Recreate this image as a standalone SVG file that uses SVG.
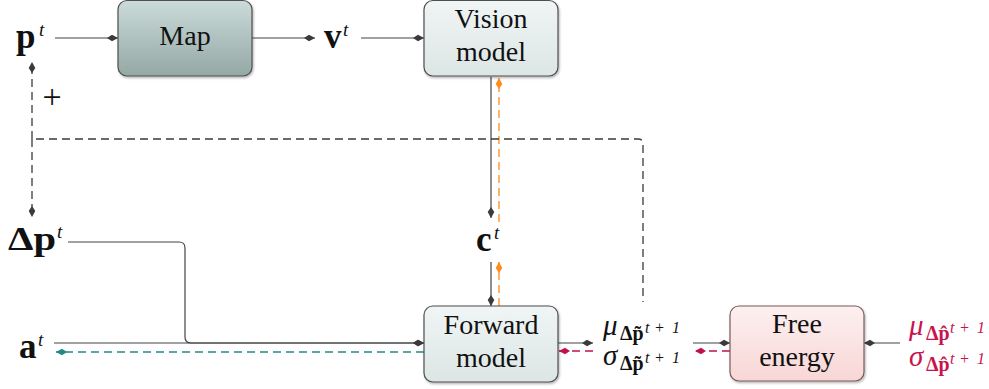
<svg xmlns="http://www.w3.org/2000/svg" width="989" height="389" viewBox="0 0 989 389">
<defs>
<style>
text{font-family:'Liberation Serif','DejaVu Serif',serif;fill:#111}
.b{font-weight:bold}
.i{font-style:italic}
.box{stroke:#4f4f4f;stroke-width:1.2}
.ln{fill:none;stroke:#444;stroke-width:1.2}
.dk{fill:none;stroke:#3a3a3a;stroke-width:1.3;stroke-dasharray:8,5}
.or{fill:none;stroke:#ff8c1a;stroke-width:1.3;stroke-dasharray:8,5}
.tl{fill:none;stroke:#208a8a;stroke-width:1.3;stroke-dasharray:8,5}
.cr{fill:none;stroke:#c0124a;stroke-width:1.3;stroke-dasharray:8,5}
text.red{fill:#c8144e}
</style>
<linearGradient id="gMap" x1="0" y1="0" x2="0" y2="1"><stop offset="0" stop-color="#cbdbda"/><stop offset="1" stop-color="#94a8a4"/></linearGradient>
<linearGradient id="gLt" x1="0" y1="0" x2="0" y2="1"><stop offset="0" stop-color="#f0f5f5"/><stop offset="1" stop-color="#dce6e5"/></linearGradient>
<linearGradient id="gPk" x1="0" y1="0" x2="0" y2="1"><stop offset="0" stop-color="#fdf0f0"/><stop offset="1" stop-color="#f8d6d6"/></linearGradient>
<filter id="sh" x="-10%" y="-10%" width="130%" height="130%"><feDropShadow dx="1" dy="1.5" stdDeviation="1.2" flood-color="#000" flood-opacity="0.3"/></filter>
<marker id="aD" markerUnits="userSpaceOnUse" markerWidth="14" markerHeight="10" refX="0" refY="0" viewBox="-11 -5 12 10" orient="auto"><path d="M0,0 L-6,-3.3 L-11,0 L-6,3.3 Z" fill="#3a3a3a"/></marker>
<marker id="aO" markerUnits="userSpaceOnUse" markerWidth="14" markerHeight="10" refX="0" refY="0" viewBox="-11 -5 12 10" orient="auto"><path d="M0,0 L-6,-3.3 L-11,0 L-6,3.3 Z" fill="#ff8c1a"/></marker>
<marker id="aT" markerUnits="userSpaceOnUse" markerWidth="14" markerHeight="10" refX="0" refY="0" viewBox="-11 -5 12 10" orient="auto"><path d="M0,0 L-6,-3.3 L-11,0 L-6,3.3 Z" fill="#208a8a"/></marker>
<marker id="aC" markerUnits="userSpaceOnUse" markerWidth="14" markerHeight="10" refX="0" refY="0" viewBox="-11 -5 12 10" orient="auto"><path d="M0,0 L-6,-3.3 L-11,0 L-6,3.3 Z" fill="#c0124a"/></marker>
</defs>

<g id="connectors">
<line class="ln" x1="55" y1="38" x2="118" y2="38" marker-end="url(#aD)"/>
<line class="ln" x1="252" y1="38" x2="315" y2="38" marker-end="url(#aD)"/>
<line class="ln" x1="361" y1="38" x2="424" y2="38" marker-end="url(#aD)"/>
<line class="ln" x1="491" y1="77" x2="491" y2="218" marker-end="url(#aD)"/>
<line class="or" x1="499" y1="222" x2="499" y2="78" marker-end="url(#aO)"/>
<line class="ln" x1="491" y1="262" x2="491" y2="306" marker-end="url(#aD)"/>
<line class="or" x1="499" y1="306" x2="499" y2="262" marker-end="url(#aO)"/>
<line class="dk" x1="32" y1="139" x2="32" y2="62" marker-end="url(#aD)"/>
<line class="dk" x1="32" y1="139" x2="32" y2="217" marker-end="url(#aD)"/>
<path class="dk" d="M36,139 H638 Q643,139 643,144 V302"/>
<path class="ln" d="M68,242 H179 Q185,242 185,248 V337 Q185,343 191,343 H424" marker-end="url(#aD)"/>
<line class="ln" x1="54" y1="343" x2="424" y2="343" marker-end="url(#aD)"/>
<line class="tl" x1="424" y1="352" x2="56" y2="352" marker-end="url(#aT)"/>
<line class="ln" x1="558" y1="343" x2="593" y2="343" marker-end="url(#aD)"/>
<line class="cr" x1="593" y1="351" x2="559" y2="351" marker-end="url(#aC)"/>
<line class="ln" x1="693" y1="343" x2="730" y2="343" marker-end="url(#aD)"/>
<line class="cr" x1="730" y1="351" x2="695" y2="351" marker-end="url(#aC)"/>
<line class="ln" x1="900" y1="343" x2="864" y2="343" marker-end="url(#aD)"/>
</g>

<g id="map">
<rect class="box" x="118" y="0.5" width="134" height="75.5" rx="9" fill="url(#gMap)" filter="url(#sh)"/>
<text x="185" y="45" font-size="28" text-anchor="middle">Map</text>
</g>
<g id="vision">
<rect class="box" x="424" y="0.5" width="134" height="75.5" rx="9" fill="url(#gLt)" filter="url(#sh)"/>
<text x="491" y="28" font-size="28" text-anchor="middle">Vision</text>
<text x="491" y="61" font-size="28" text-anchor="middle">model</text>
</g>
<g id="forward">
<rect class="box" x="424" y="306" width="134" height="76" rx="9" fill="url(#gLt)" filter="url(#sh)"/>
<text x="491" y="334" font-size="28" text-anchor="middle">Forward</text>
<text x="491" y="367" font-size="28" text-anchor="middle">model</text>
</g>
<g id="free">
<rect x="730" y="306" width="134" height="75" rx="9" fill="url(#gPk)" stroke="#7a5a5a" stroke-width="1.2" filter="url(#sh)"/>
<text x="797" y="333" font-size="28" text-anchor="middle">Free</text>
<text x="797" y="366" font-size="28" text-anchor="middle">energy</text>
</g>

<g id="pt">
<text class="b" x="16" y="48" font-size="35">p</text>
<text class="i" x="39" y="36" font-size="19">t</text>
</g>
<g id="vt">
<text class="b" x="324" y="48" font-size="35">v</text>
<text class="i" x="343" y="36" font-size="19">t</text>
</g>
<g id="plus">
<text x="52" y="108" font-size="34" text-anchor="middle">+</text>
</g>
<g id="dpt">
<text class="b" x="8" y="250" font-size="34" textLength="48" lengthAdjust="spacingAndGlyphs">Δp</text>
<text class="i" x="57" y="238" font-size="19">t</text>
</g>
<g id="ct">
<text class="b" x="476" y="251" font-size="35">c</text>
<text class="i" x="494" y="239" font-size="19">t</text>
</g>
<g id="at">
<text class="b" x="19" y="358" font-size="35">a</text>
<text class="i" x="38" y="346" font-size="19">t</text>
</g>
<g id="mu-tilde">
<text class="i" x="603" y="335" font-size="29">μ</text>
<text class="b" x="620" y="340" font-size="20">Δp̃</text>
<text class="i" font-size="16" y="333"><tspan x="645">t</tspan><tspan x="654">+</tspan><tspan x="672">1</tspan></text>
</g>
<g id="sigma-tilde">
<text class="i" x="603" y="365" font-size="29">σ</text>
<text class="b" x="620" y="370" font-size="20">Δp̃</text>
<text class="i" font-size="16" y="363"><tspan x="645">t</tspan><tspan x="654">+</tspan><tspan x="672">1</tspan></text>
</g>
<g id="mu-hat">
<text class="i red" x="909" y="335" font-size="29">μ</text>
<text class="b red" x="926" y="340" font-size="20">Δp̂</text>
<text class="i red" font-size="16" y="333"><tspan x="950">t</tspan><tspan x="959">+</tspan><tspan x="977">1</tspan></text>
</g>
<g id="sigma-hat">
<text class="i red" x="909" y="366" font-size="29">σ</text>
<text class="b red" x="926" y="371" font-size="20">Δp̂</text>
<text class="i red" font-size="16" y="364"><tspan x="950">t</tspan><tspan x="959">+</tspan><tspan x="977">1</tspan></text>
</g>
</svg>
